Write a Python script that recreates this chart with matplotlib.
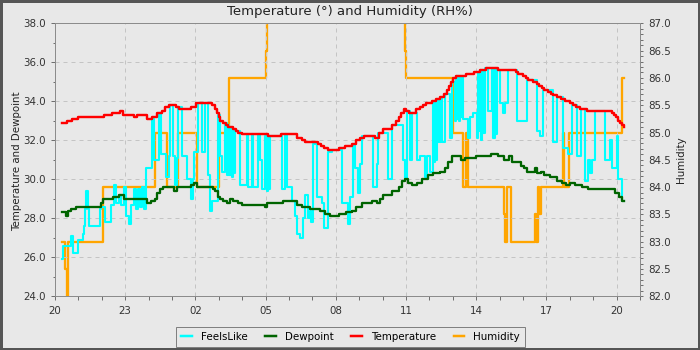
import matplotlib
matplotlib.use("Agg")
import matplotlib.pyplot as plt
from matplotlib.ticker import MultipleLocator, FuncFormatter, FormatStrFormatter
from matplotlib.lines import Line2D
from matplotlib.patches import Rectangle

plt.rcParams['font.family'] = ['DejaVu Sans']

# Time axis: minutes after 20:00 on the first evening
END_MIN = 1460
START_HOUR = 20

# Temperature (°), step changes: minute, value
temp_t = [18, 31, 44, 59, 126, 146, 167, 174, 203, 210, 236, 249, 262, 274, 282,
          292, 310, 318, 349, 362, 403, 410, 415, 420, 424, 430, 438, 444, 456, 464,
          469, 479, 546, 579, 620, 633, 641, 674, 682, 690, 700, 728, 744, 762, 772,
          782, 792, 820, 831, 841, 864, 874, 882, 888, 895, 900, 908, 926, 936, 944,
          952, 967, 977, 987, 997, 1005, 1010, 1015, 1020, 1028, 1054, 1074, 1090, 1105, 1136,
          1182, 1187, 1200, 1208, 1213, 1226, 1236, 1241, 1249, 1254, 1264, 1272, 1277, 1287, 1297,
          1308, 1321, 1328, 1336, 1346, 1364, 1428, 1433, 1438, 1444, 1449, 1454, 1459]
temp_v = [32.9, 33.0, 33.1, 33.2, 33.3, 33.4, 33.5, 33.3, 33.2, 33.3, 33.1, 33.2, 33.4, 33.5, 33.7,
          33.8, 33.7, 33.6, 33.7, 33.9, 33.8, 33.6, 33.4, 33.2, 33.0, 32.9, 32.8, 32.7, 32.6, 32.5,
          32.4, 32.3, 32.2, 32.3, 32.1, 32.0, 31.9, 31.8, 31.7, 31.6, 31.5, 31.6, 31.7, 31.8, 32.0,
          32.1, 32.2, 32.1, 32.4, 32.6, 32.8, 33.0, 33.2, 33.4, 33.6, 33.5, 33.4, 33.6, 33.7, 33.8,
          33.9, 34.0, 34.1, 34.2, 34.4, 34.6, 34.8, 35.0, 35.2, 35.3, 35.4, 35.5, 35.6, 35.7, 35.6,
          35.5, 35.4, 35.3, 35.2, 35.1, 35.0, 34.9, 34.8, 34.7, 34.6, 34.5, 34.4, 34.3, 34.2, 34.1,
          34.0, 33.9, 33.8, 33.7, 33.6, 33.5, 33.4, 33.3, 33.2, 33.0, 32.9, 32.8, 32.7]

# Dewpoint (°)
dew_t = [18, 28, 33, 41, 54, 118, 123, 149, 164, 177, 236, 246, 256, 262, 269,
         277, 305, 313, 349, 356, 364, 405, 410, 418, 423, 431, 441, 449, 456, 469,
         479, 538, 544, 577, 585, 620, 633, 654, 679, 692, 705, 728, 746, 762, 772,
         787, 813, 825, 833, 841, 864, 882, 890, 897, 905, 915, 928, 941, 956, 969,
         987, 1000, 1008, 1018, 1041, 1051, 1079, 1118, 1136, 1151, 1164, 1172, 1195, 1203, 1210,
         1231, 1236, 1246, 1254, 1269, 1287, 1300, 1310, 1321, 1333, 1351, 1367, 1436, 1446, 1454]
dew_v = [28.3, 28.1, 28.4, 28.5, 28.6, 28.8, 29.0, 29.1, 29.2, 29.0, 28.8, 28.9, 29.0, 29.3, 29.5,
         29.6, 29.4, 29.6, 29.7, 29.8, 29.6, 29.5, 29.4, 29.1, 29.0, 28.9, 28.8, 29.0, 28.9, 28.8,
         28.7, 28.6, 28.8, 28.8, 28.9, 28.7, 28.6, 28.5, 28.4, 28.2, 28.1, 28.2, 28.3, 28.4, 28.6,
         28.8, 28.9, 28.8, 29.0, 29.2, 29.4, 29.6, 29.9, 30.0, 29.8, 29.7, 29.8, 30.0, 30.2, 30.3,
         30.4, 30.6, 30.9, 31.2, 31.0, 31.1, 31.2, 31.3, 31.2, 31.0, 31.2, 30.9, 30.7, 30.6, 30.4,
         30.6, 30.3, 30.4, 30.2, 30.1, 29.9, 29.8, 29.7, 29.8, 29.7, 29.6, 29.5, 29.3, 29.1, 28.9]

# Feels-like temperature (°)
feels_t = [18, 21, 41, 46, 59, 72, 74, 77, 79, 85, 87, 115, 118, 128, 144,
           151, 156, 164, 169, 177, 182, 190, 195, 203, 208, 213, 218, 223, 228, 233,
           249, 254, 267, 272, 285, 292, 295, 303, 308, 313, 315, 326, 338, 349, 354,
           356, 367, 377, 385, 392, 397, 403, 418, 423, 428, 436, 441, 444, 446, 451,
           454, 456, 459, 462, 474, 492, 495, 505, 508, 520, 526, 531, 538, 544, 546,
           549, 551, 582, 590, 595, 608, 615, 620, 628, 636, 641, 649, 654, 656, 662,
           672, 685, 690, 700, 710, 736, 751, 756, 764, 769, 777, 782, 787, 815, 826,
           828, 854, 864, 892, 897, 903, 910, 915, 928, 936, 949, 954, 961, 969, 972,
           974, 977, 979, 982, 984, 987, 990, 993, 1000, 1013, 1018, 1026, 1029, 1031, 1033,
           1036, 1038, 1041, 1043, 1046,
           1059, 1064, 1072, 1082, 1085, 1087, 1090, 1092, 1095, 1097, 1103, 1110, 1120, 1123, 1128,
           1130, 1133, 1141, 1149,
           1154, 1162, 1185, 1210, 1236, 1244, 1251, 1277, 1287, 1303, 1315, 1326, 1338, 1349, 1359,
           1367, 1372, 1377, 1385, 1410, 1423, 1428, 1441, 1444, 1454]
feels_v = [25.9, 26.6, 27.1, 26.2, 26.9, 27.2, 27.6, 28.5, 29.4, 28.5, 27.6, 28.5, 28.6, 27.8, 28.7,
           29.7, 28.8, 29.2, 28.7, 29.6, 28.1, 27.7, 28.7, 29.5, 28.5, 29.5, 28.6, 29.6, 28.5, 30.6,
           33.1, 31.0, 33.4, 31.3, 30.1, 31.2, 33.8, 31.2, 29.7, 31.1, 33.7, 31.2, 30.0, 29.0, 30.0,
           31.4, 33.9, 31.4, 33.9, 30.2, 28.4, 28.9, 33.3, 31.2, 30.4, 32.9, 30.2, 32.8, 30.2, 32.7,
           30.1, 32.6, 30.3, 32.5, 29.7, 32.3, 29.6, 32.3, 29.6, 32.3, 31.0, 29.5, 32.2, 29.4, 32.2,
           29.5, 32.2, 29.5, 32.3, 29.6, 28.9, 28.1, 27.2, 27.0, 28.0, 29.2, 28.0, 28.4, 27.8, 31.8,
           29.1, 28.8, 27.5, 31.4, 31.5, 28.8, 27.7, 29.1, 31.8, 30.6, 29.3, 30.8, 32.2, 29.6, 30.8,
           32.4, 30.0, 32.8, 31.0, 30.0, 33.5, 31.0, 33.4, 31.0, 31.2, 30.1, 31.2, 30.4, 33.9, 30.9,
           34.0, 31.0, 34.1, 31.9, 34.1, 31.9, 34.2, 31.9, 34.4, 32.1, 35.0, 33.0, 35.3, 33.1, 35.3,
           33.0, 35.3, 33.2, 35.3, 33.1,
           32.1, 33.2, 33.4, 32.1, 35.5, 32.5, 35.6, 32.0, 35.6, 32.4, 35.7, 33.5, 35.7, 32.1, 35.7,
           32.3, 35.6, 33.9, 33.4,
           33.9, 35.6, 33.0, 35.1, 32.5, 32.2, 34.6, 31.9, 34.2, 31.6, 31.3, 33.8, 31.2, 33.6, 29.9,
           31.0, 30.3, 31.0, 33.5, 31.0, 32.0, 30.6, 32.2, 30.0, 28.9]

# Relative humidity (RH%), right-hand scale
hum_t = [18, 26, 31, 34, 123, 256, 286, 316, 363, 420, 446, 540, 544, 897, 901,
         1020, 1045, 1055, 1059, 1150, 1154, 1158, 1170, 1230, 1234, 1238, 1242, 1245, 1302, 1305,
         1318, 1453]
hum_v = [83.0, 82.5, 82.0, 83.0, 84.0, 85.0, 84.0, 85.0, 84.0, 85.0, 86.0, 86.5, 88.5, 86.5, 86.0,
         85.0, 84.0, 85.0, 84.0, 83.5, 83.0, 84.0, 83.0, 83.5, 83.0, 84.0, 83.5, 84.0, 85.0, 84.0,
         85.0, 86.0]

BG = '#e8e8e8'
C_FEELS = '#00ffff'
C_DEW = '#006400'
C_TEMP = '#ff0000'
C_HUM = '#ffa500'
FS = 7.35
PX = 72 / 100.0

fig = plt.figure(figsize=(7, 3.5), dpi=100, facecolor=BG)
ax = fig.add_axes([55 / 700, (350 - 296.3) / 350, 585 / 700, 273 / 350])
ax2 = ax.twinx()

# humidity axis sits underneath the temperature axis
ax.set_zorder(ax2.get_zorder() + 1)
ax.patch.set_visible(False)
ax2.patch.set_facecolor(BG)


def stepped(t, v):
    return list(t) + [END_MIN], list(v) + [v[-1]]


ht, hv = stepped(hum_t, hum_v)
ax2.step(ht, hv, where='post', color=C_HUM, lw=2.3 * PX)

ft, fv = stepped(feels_t, feels_v)
ax.step(ft, fv, where='post', color=C_FEELS, lw=2.1 * PX, zorder=3)
dt, dv = stepped(dew_t, dew_v)
ax.step(dt, dv, where='post', color=C_DEW, lw=2.3 * PX, zorder=4)
tt, tv = stepped(temp_t, temp_v)
ax.step(tt, tv, where='post', color=C_TEMP, lw=2.4 * PX, zorder=5)

ax.set_xlim(0, 1500)
ax.set_ylim(24, 38)
ax2.set_ylim(82, 87)

ax.xaxis.set_major_locator(MultipleLocator(180))
ax.xaxis.set_minor_locator(MultipleLocator(60))
ax.xaxis.set_major_formatter(FuncFormatter(
    lambda m, pos: f"{int((START_HOUR + m // 60) % 24):02d}"))
ax.yaxis.set_major_locator(MultipleLocator(2))
ax.yaxis.set_minor_locator(MultipleLocator(1))
ax.yaxis.set_major_formatter(FormatStrFormatter('%.1f'))
ax2.yaxis.set_major_locator(MultipleLocator(0.5))
ax2.yaxis.set_minor_locator(MultipleLocator(0.1))
ax2.yaxis.set_major_formatter(FormatStrFormatter('%.1f'))

ax.grid(True, which='major', color='#c4c4c4', lw=1 * PX, linestyle=(0, (4, 4)))
ax.set_axisbelow(True)

SPINE = '#8c8c8c'
for a in (ax, ax2):
    for s in a.spines.values():
        s.set_color(SPINE)
        s.set_linewidth(1 * PX)

ax.tick_params(axis='both', which='major', direction='out', length=4 * PX,
               width=1 * PX, color='#707070', labelsize=FS, labelcolor='#333333', pad=4)
ax.tick_params(axis='both', which='minor', direction='out', length=2.5 * PX,
               width=1 * PX, color='#707070')
ax.tick_params(axis='x', which='both', length=4 * PX)
ax.tick_params(axis='x', which='major', pad=6 * PX / 0.72 * 0.72)
ax2.tick_params(axis='y', which='major', direction='out', length=3 * PX,
                width=1 * PX, color='#707070', labelsize=FS, labelcolor='#333333', pad=4)
ax2.tick_params(axis='y', which='minor', direction='out', length=3 * PX,
                width=1 * PX, color='#707070')

fig.text(0.4993, 1 - 11 / 350, 'Temperature (°) and Humidity (RH%)', ha='center',
         va='center', fontsize=9.5, color='#222222')
fig.text(17 / 700, 1 - 161 / 350, 'Temperature and Dewpoint', rotation=90,
         ha='center', va='center', fontsize=FS, color='#222222')
fig.text(681 / 700, 1 - 160 / 350, 'Humidity', rotation=90,
         ha='center', va='center', fontsize=FS, color='#222222')

handles = [Line2D([], [], color=C_FEELS, lw=2.5 * PX),
           Line2D([], [], color=C_DEW, lw=2.5 * PX),
           Line2D([], [], color=C_TEMP, lw=2.5 * PX),
           Line2D([], [], color=C_HUM, lw=2.5 * PX)]
leg = fig.legend(handles, ['FeelsLike', 'Dewpoint', 'Temperature', 'Humidity'],
                 loc='lower center', bbox_to_anchor=(0.5007, 0.0086), ncol=4,
                 fontsize=FS, frameon=True, fancybox=False, borderaxespad=0,
                 borderpad=0.5, handlelength=1.05, handletextpad=0.85,
                 columnspacing=1.75)
leg.get_frame().set_facecolor(BG)
leg.get_frame().set_edgecolor('#808080')
leg.get_frame().set_linewidth(1 * PX)
leg.get_frame().set_alpha(1)

fig.patches.append(Rectangle((0, 0), 1, 1, transform=fig.transFigure, fill=False,
                             edgecolor='#555555', lw=5 * PX, zorder=10))

fig.savefig('out.png', dpi=100, facecolor=BG)
